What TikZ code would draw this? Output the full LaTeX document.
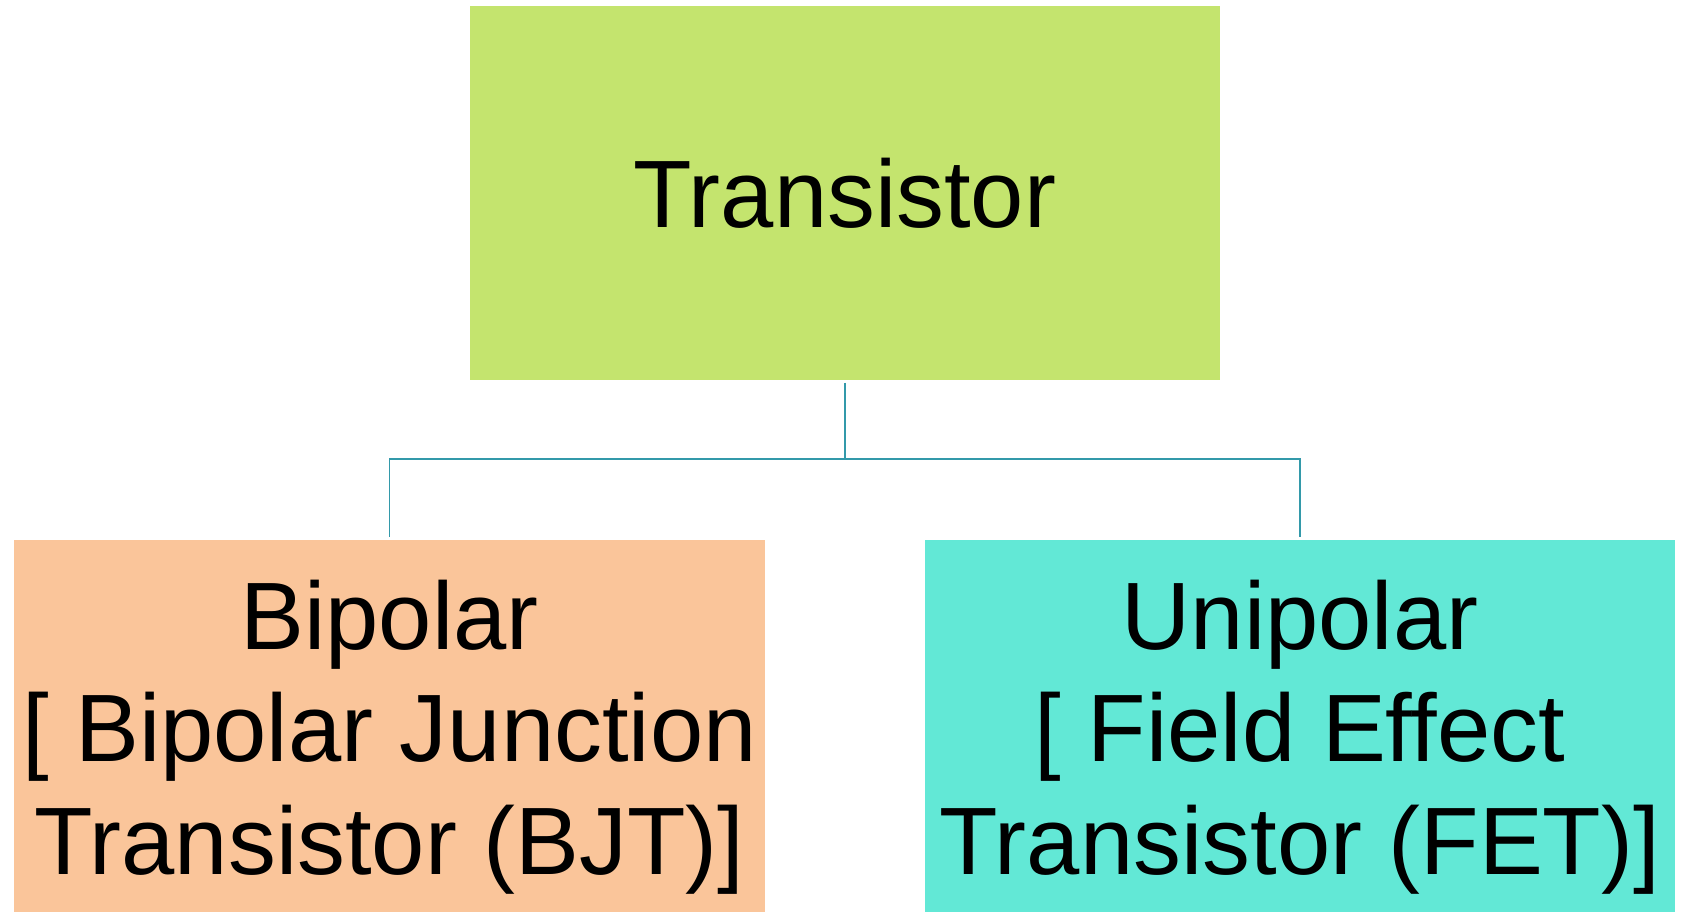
\documentclass[tikz,border=0pt]{standalone}
\usepackage{fontspec}
\setmainfont{Liberation Sans}
\usepackage{tikz}
\usetikzlibrary{positioning}
\definecolor{topgreen}{HTML}{C4E46E}
\definecolor{bjtorange}{HTML}{FAC59A}
\definecolor{fetcyan}{HTML}{62E8D6}
\definecolor{linkteal}{HTML}{3399AA}
\tikzset{
  rootbox/.style={fill=topgreen, minimum width=15cm, minimum height=7.48cm, align=center, inner sep=0pt},
  leafbox/.style={minimum width=15cm, minimum height=7.44cm, align=center, inner sep=0pt, text height=180pt},
  link/.style={draw=linkteal, line width=1.1pt}
}

\begin{document}
\begin{tikzpicture}[every node/.style={font=\fontsize{54.5}{64}\selectfont}]
      \useasboundingbox (0,0) rectangle (33.66,18.24);
      \node[rootbox] (trans) at (16.9,14.38) {Transistor};
      \node[leafbox, fill=bjtorange] (bjt) at (7.79,3.72) {Bipolar\\ {[} Bipolar Junction\\ Transistor (BJT)]};
      \node[leafbox, fill=fetcyan] (fet) at (26.0,3.72) {Unipolar\\ {[} Field Effect\\ Transistor (FET)]};
      \draw[link] ([yshift=-1.5pt]trans.south) -- ++(0,-1.52) -| ([yshift=1.5pt]bjt.north);
      \draw[link] ([yshift=-1.5pt]trans.south) -- ++(0,-1.52) -| ([yshift=1.5pt]fet.north);
    \end{tikzpicture}
\end{document}
